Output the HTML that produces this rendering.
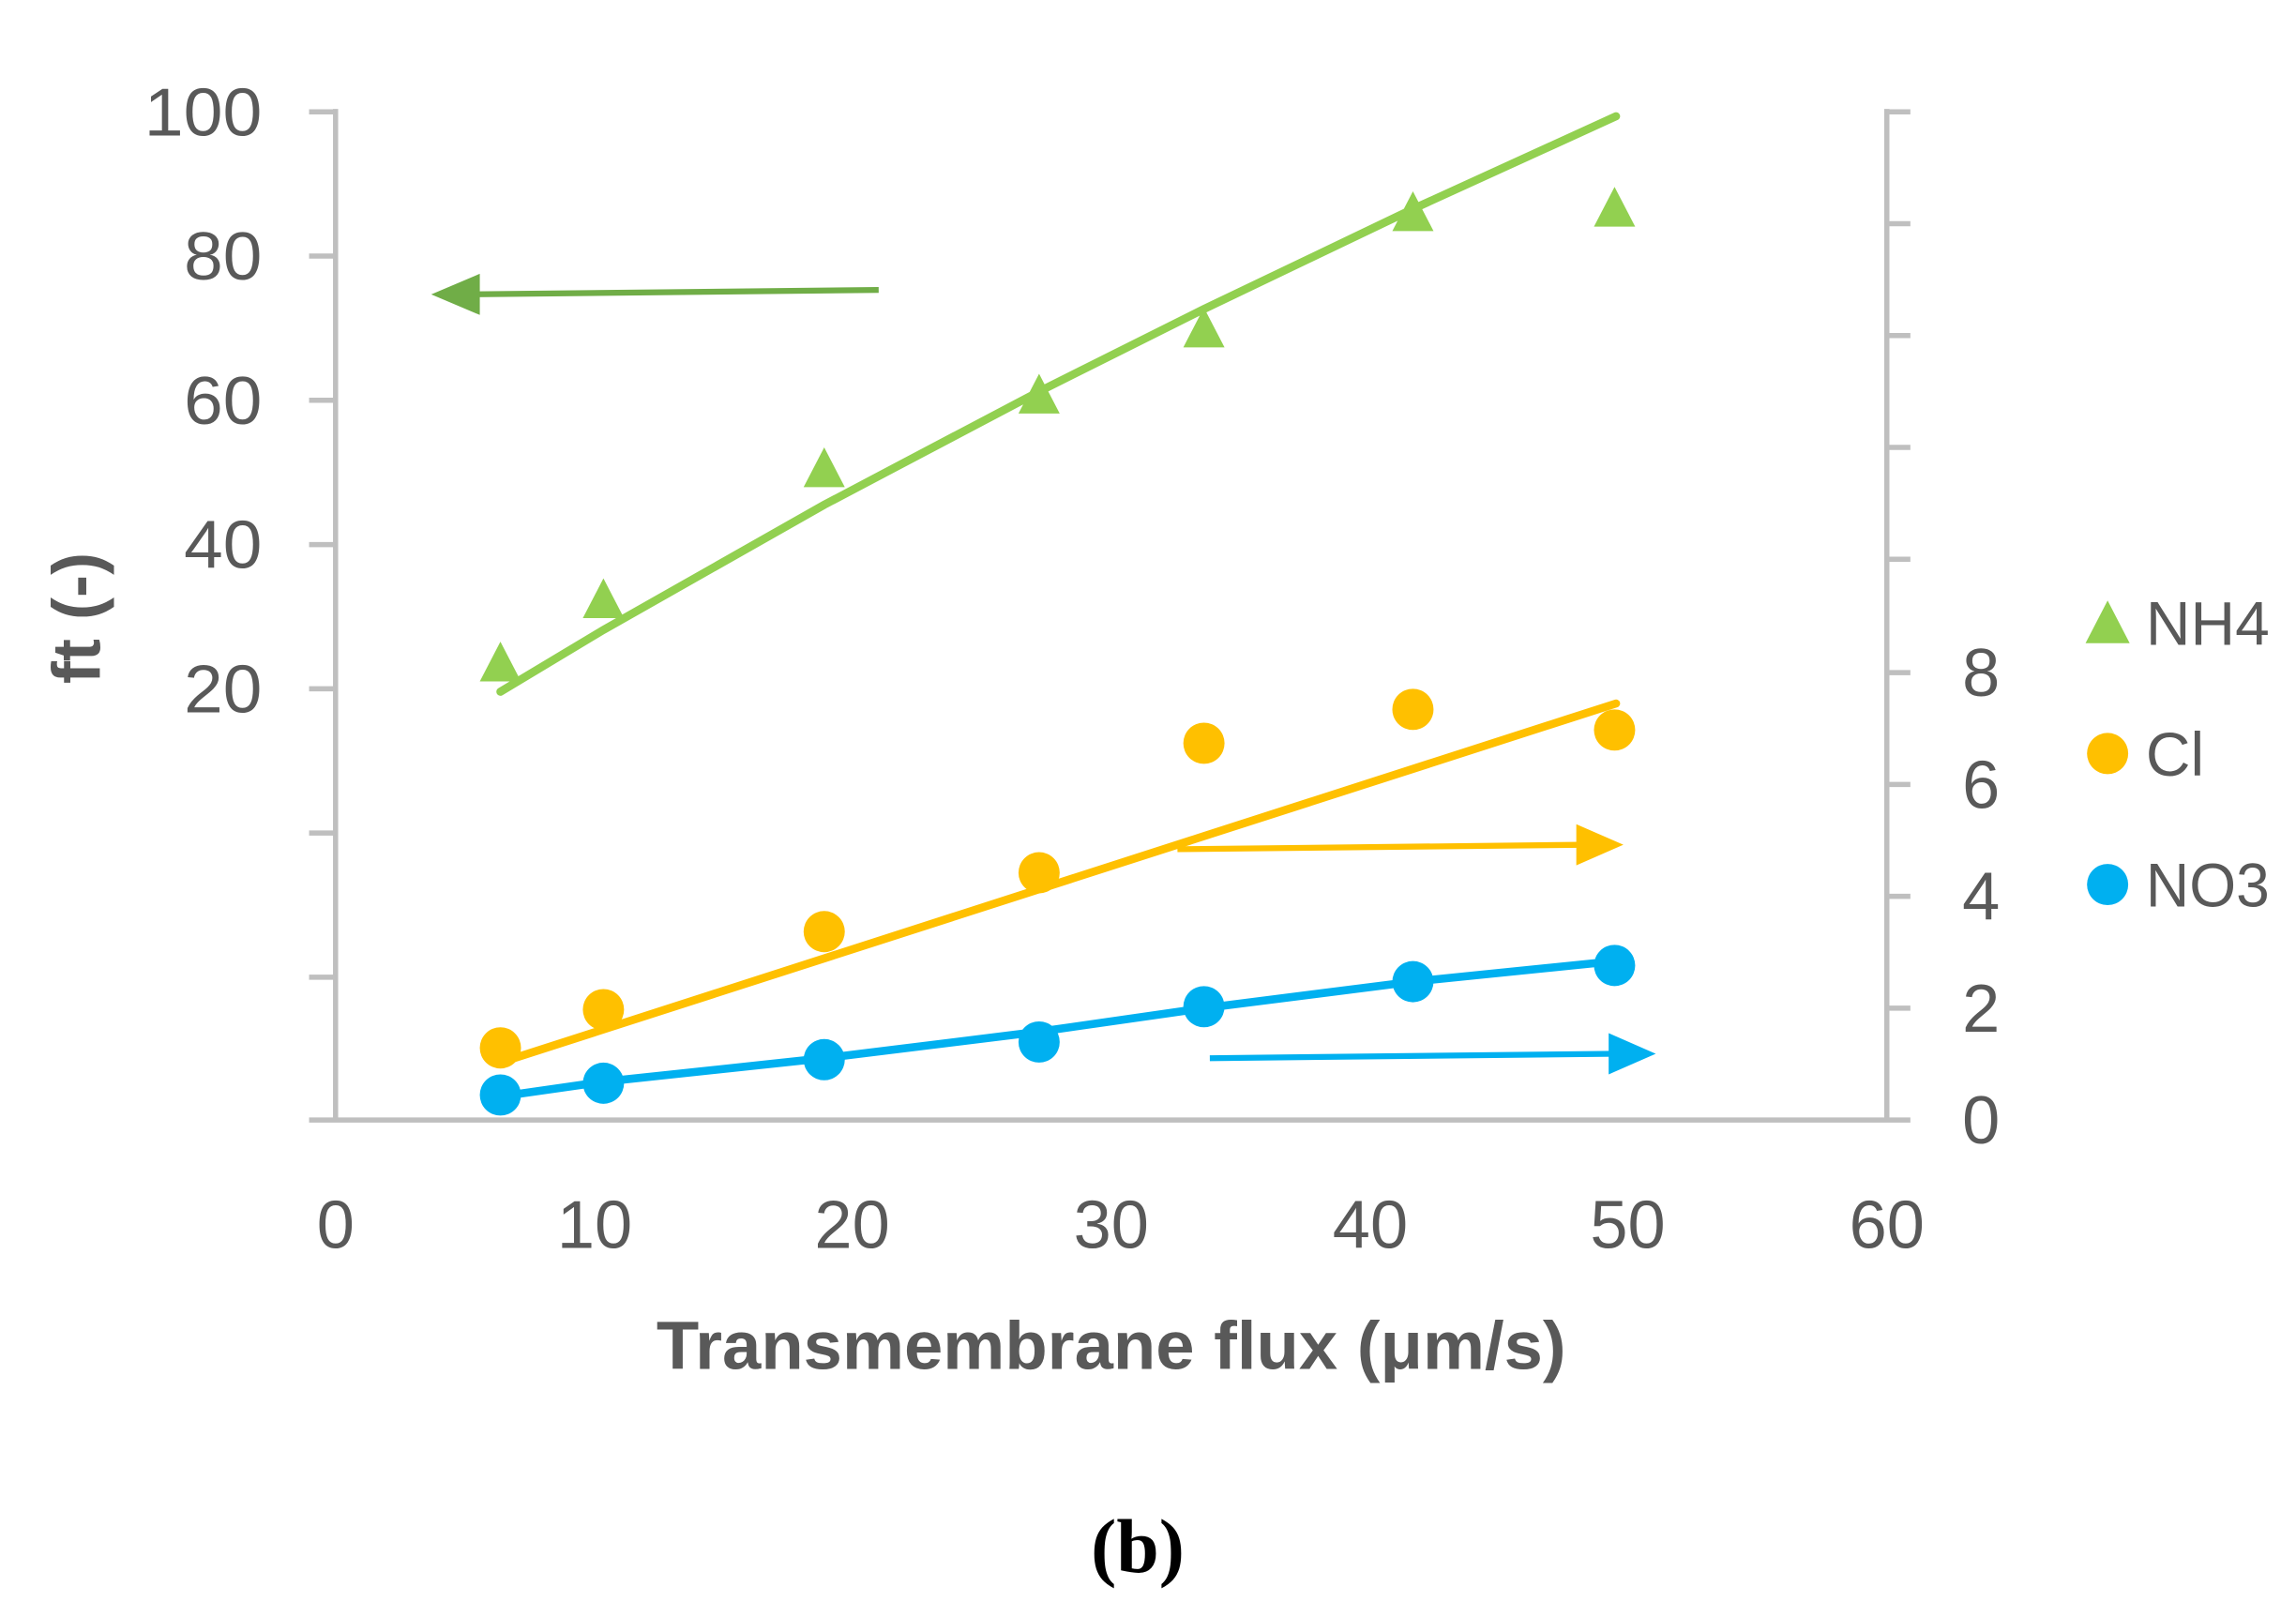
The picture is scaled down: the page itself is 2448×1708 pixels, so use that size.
<!DOCTYPE html>
<html><head><meta charset="utf-8"><style>html,body{margin:0;padding:0;background:#fff}svg{display:block}</style></head>
<body>
<svg width="2448" height="1708" viewBox="0 0 1560 1088.5" preserveAspectRatio="none" xmlns="http://www.w3.org/2000/svg" font-family="Liberation Sans, sans-serif">
<rect width="1560" height="1088.5" fill="#fff"/>
<g stroke="#BFBFBF" stroke-width="3.5" fill="none">
<line x1="228" y1="74" x2="228" y2="762"/>
<line x1="1282" y1="74" x2="1282" y2="762"/>
<line x1="210" y1="761" x2="1298" y2="761"/>
<path d="M210 76H228M210 174H228M210 272H228M210 370H228M210 468H228M210 566H228M210 664H228"/>
<path d="M1282 76H1298M1282 152H1298M1282 228H1298M1282 304H1298M1282 380H1298M1282 457H1298M1282 533H1298M1282 609H1298M1282 685H1298"/>
</g>
<g fill="#595959" font-size="46" text-anchor="end">
<text x="178" y="92" textLength="80" lengthAdjust="spacingAndGlyphs">100</text>
<text x="178" y="190" textLength="53" lengthAdjust="spacingAndGlyphs">80</text>
<text x="178" y="288" textLength="53" lengthAdjust="spacingAndGlyphs">60</text>
<text x="178" y="386" textLength="53" lengthAdjust="spacingAndGlyphs">40</text>
<text x="178" y="484" textLength="53" lengthAdjust="spacingAndGlyphs">20</text>
</g>
<g fill="#595959" font-size="46" text-anchor="middle">
<text x="1346" y="473">8</text>
<text x="1346" y="549">6</text>
<text x="1346" y="625">4</text>
<text x="1346" y="701">2</text>
<text x="1346" y="777">0</text>
<text x="228" y="848">0</text>
<text x="404" y="848">10</text>
<text x="579" y="848">20</text>
<text x="755" y="848">30</text>
<text x="931" y="848">40</text>
<text x="1106" y="848">50</text>
<text x="1282" y="848">60</text>
</g>
<text x="755" y="930" fill="#595959" font-size="46" font-weight="bold" text-anchor="middle" textLength="618" lengthAdjust="spacingAndGlyphs">Transmembrane flux (μm/s)</text>
<text transform="translate(68,420) rotate(-90)" fill="#595959" font-size="46" font-weight="bold" text-anchor="middle">ft (-)</text>
<text x="773" y="1068" fill="#000" font-size="52" font-weight="bold" font-family="Liberation Serif, serif" text-anchor="middle">(b)</text>
<polyline points="340,470 410,428 560,343 706,266 818,210 960,142 1098,79" fill="none" stroke="#92D050" stroke-width="5.5" stroke-linecap="round"/>
<line x1="340" y1="722" x2="1098" y2="478" stroke="#FFC000" stroke-width="5.5" stroke-linecap="round"/>
<polyline points="340,745 410,735 560,719 706,701 818,685 960,667 1098,653" fill="none" stroke="#00B0F0" stroke-width="5.5" stroke-linecap="round"/>
<line x1="597" y1="197" x2="320" y2="200" stroke="#70AD47" stroke-width="4"/>
<polygon points="293,200 326,186 326,214" fill="#70AD47"/>
<line x1="800" y1="577" x2="1075" y2="574" stroke="#FFC000" stroke-width="4"/>
<polygon points="1103,574 1071,560 1071,588" fill="#FFC000"/>
<line x1="822" y1="719" x2="1097" y2="716" stroke="#00B0F0" stroke-width="4"/>
<polygon points="1125,716 1093,702 1093,730" fill="#00B0F0"/>
<g fill="#92D050">
<polygon points="340,436 354,463 326,463"/>
<polygon points="410,393 424,420 396,420"/>
<polygon points="560,304 574,331 546,331"/>
<polygon points="706,254 720,281 692,281"/>
<polygon points="818,209 832,236 804,236"/>
<polygon points="960,130 974,157 946,157"/>
<polygon points="1097,127 1111,154 1083,154"/>
<polygon points="1432,408 1447,437 1417,437"/>
</g>
<g fill="#FFC000">
<circle cx="340" cy="712" r="14"/><circle cx="410" cy="686" r="14"/><circle cx="560" cy="633" r="14"/>
<circle cx="706" cy="593" r="14"/><circle cx="818" cy="505" r="14"/><circle cx="960" cy="482" r="14"/>
<circle cx="1097" cy="496" r="14"/><circle cx="1432" cy="512" r="14"/>
</g>
<g fill="#00B0F0">
<circle cx="340" cy="744" r="14"/><circle cx="410" cy="736" r="14"/><circle cx="560" cy="720" r="14"/>
<circle cx="706" cy="708" r="14"/><circle cx="818" cy="684" r="14"/><circle cx="960" cy="667" r="14"/>
<circle cx="1097" cy="656" r="14"/><circle cx="1432" cy="601" r="14"/>
</g>
<g fill="#595959" font-size="42">
<text x="1458" y="438" textLength="84" lengthAdjust="spacingAndGlyphs">NH4</text>
<text x="1458" y="527">Cl</text>
<text x="1458" y="616" textLength="84" lengthAdjust="spacingAndGlyphs">NO3</text>
</g>
</svg>
</body></html>
